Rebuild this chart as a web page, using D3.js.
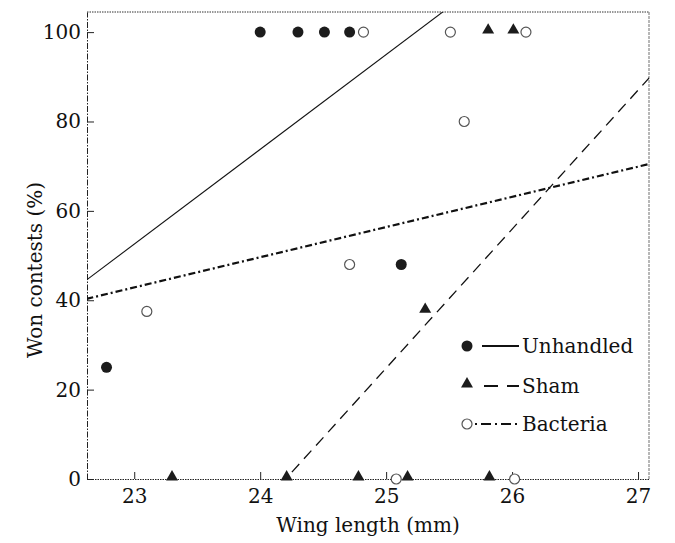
<!DOCTYPE html>
<html><head><meta charset="utf-8">
<script src="https://cdn.jsdelivr.net/npm/d3@7"></script>
<style>body{margin:0;background:#fff}svg{display:block}</style>
</head><body>
<svg id="c" width="675" height="543"></svg>
<script>
// ---- data ----
const xTicks = [23, 24, 25, 26, 27];
const yTicks = [0, 20, 40, 60, 80, 100];
const unhandledX = [22.78, 24.0, 24.3, 24.51, 24.71, 25.12];
const unhandledY = [25, 100, 100, 100, 100, 48];
const shamX = [23.3, 24.21, 24.78, 25.17, 25.31, 25.82, 25.81, 26.01];
const shamY = [0, 0, 0, 0, 37.5, 0, 100, 100];
const bacteriaX = [23.1, 24.71, 24.82, 25.08, 25.51, 25.62, 26.02, 26.11];
const bacteriaY = [37.5, 48, 100, 0, 100, 80, 0, 100];
// fitted regression lines, evaluated at the plot's left and right edges
const fitX = [22.62, 27.09];
const unhandledFit = [44.5, 139.3];
const shamFit = [-49.2, 89.8];
const bacteriaFit = [40.3, 70.5];
const legendLabels = ["Unhandled", "Sham", "Bacteria"];

// ---- layout ----
const L = 87, R = 649, T = 12, B = 479;
const x = d3.scaleLinear().domain([22.625, 27.087]).range([L, R]);
const y = d3.scaleLinear().domain([0, 104.5]).range([B, T]);
const svg = d3.select("#c");
const font = "'DejaVu Serif', serif";

svg.append("defs").append("clipPath").attr("id", "clip")
  .append("rect").attr("x", L).attr("y", T).attr("width", R - L).attr("height", B - T);

// frame
svg.append("line").attr("x1", L).attr("x2", R).attr("y1", T).attr("y2", T)
  .attr("stroke", "#333").attr("stroke-width", 1).attr("stroke-dasharray", "1.5,1");
svg.append("line").attr("x1", R).attr("x2", R).attr("y1", T).attr("y2", B)
  .attr("stroke", "#888").attr("stroke-width", 1.2).attr("stroke-dasharray", "3,1");

// axes
const xAxis = svg.append("g").attr("transform", `translate(0,${B})`)
  .call(d3.axisBottom(x).tickValues(xTicks).tickFormat(d3.format("d"))
    .tickSizeInner(-7).tickSizeOuter(0).tickPadding(10));
const yAxis = svg.append("g").attr("transform", `translate(${L},0)`)
  .call(d3.axisLeft(y).tickValues(yTicks).tickFormat(d3.format("d"))
    .tickSizeInner(-7).tickSizeOuter(0).tickPadding(6));
xAxis.select(".domain").attr("stroke", "#222").attr("stroke-dasharray", "1.5,1");
yAxis.select(".domain").attr("stroke", "#222").attr("stroke-dasharray", "6,1.5,1.5,1.5");
[xAxis, yAxis].forEach(g => {
  g.selectAll(".tick line").attr("stroke", "#222");
  g.selectAll(".tick text").attr("font-family", font).attr("font-size", 20).attr("fill", "#111");
});
xAxis.selectAll(".tick text").attr("dy", "0.71em");

// axis titles
svg.append("text").attr("x", (L + R) / 2).attr("y", 532).attr("text-anchor", "middle")
  .attr("font-family", font).attr("font-size", 20).attr("fill", "#111").text("Wing length (mm)");
svg.append("text").attr("transform", "translate(42,270) rotate(-90)").attr("text-anchor", "middle")
  .attr("font-family", font).attr("font-size", 20).attr("fill", "#111").text("Won contests (%)");

// fit lines
const line = d3.line().x(d => x(d[0])).y(d => y(d[1]));
const lines = svg.append("g").attr("clip-path", "url(#clip)");
const fits = [
  {vals: unhandledFit, dash: null, w: 1.1},
  {vals: shamFit, dash: "11,7", w: 1.3},
  {vals: bacteriaFit, dash: "7,3,2,3", w: 2.2}
];
fits.forEach(f => {
  lines.append("path").datum(fitX.map((v, i) => [v, f.vals[i]]))
    .attr("d", line).attr("fill", "none").attr("stroke", "#111")
    .attr("stroke-width", f.w).attr("stroke-dasharray", f.dash);
});

// markers
const tri = d3.symbol().type(d3.symbolTriangle).size(62);
function drawFilledCircle(g, cx, cy) {
  g.append("circle").attr("cx", cx).attr("cy", cy).attr("r", 5.5).attr("fill", "#1c1c1c");
}
function drawTriangle(g, cx, cy) {
  g.append("path").attr("d", tri()).attr("transform", `translate(${cx},${cy - 2})`).attr("fill", "#1c1c1c");
}
function drawOpen(g, cx, cy) {
  g.append("circle").attr("cx", cx).attr("cy", cy).attr("r", 5).attr("fill", "#fff")
    .attr("stroke", "#555").attr("stroke-width", 1.2);
}
const pts = svg.append("g");
bacteriaX.forEach((v, i) => drawOpen(pts, x(v), y(bacteriaY[i])));
shamX.forEach((v, i) => drawTriangle(pts, x(v), y(shamY[i])));
unhandledX.forEach((v, i) => drawFilledCircle(pts, x(v), y(unhandledY[i])));

// legend
const legY = [346, 386, 424];
const leg = svg.append("g");
const markers = [drawFilledCircle, drawTriangle, drawOpen];
const legDash = [null, "14,9,12,40", "2,4,10,4"];
legendLabels.forEach((lab, i) => {
  markers[i](leg, 467, legY[i]);
  leg.append("line").attr("x1", i === 0 ? 482 : (i === 1 ? 484 : 475)).attr("x2", 519)
    .attr("y1", legY[i]).attr("y2", legY[i])
    .attr("stroke", "#111").attr("stroke-width", i === 0 ? 2 : 1.8)
    .attr("stroke-dasharray", legDash[i]);
  leg.append("text").attr("x", 522).attr("y", legY[i]).attr("dy", "0.35em")
    .attr("font-family", font).attr("font-size", 20).attr("fill", "#111").text(lab);
});
</script>
</body></html>
